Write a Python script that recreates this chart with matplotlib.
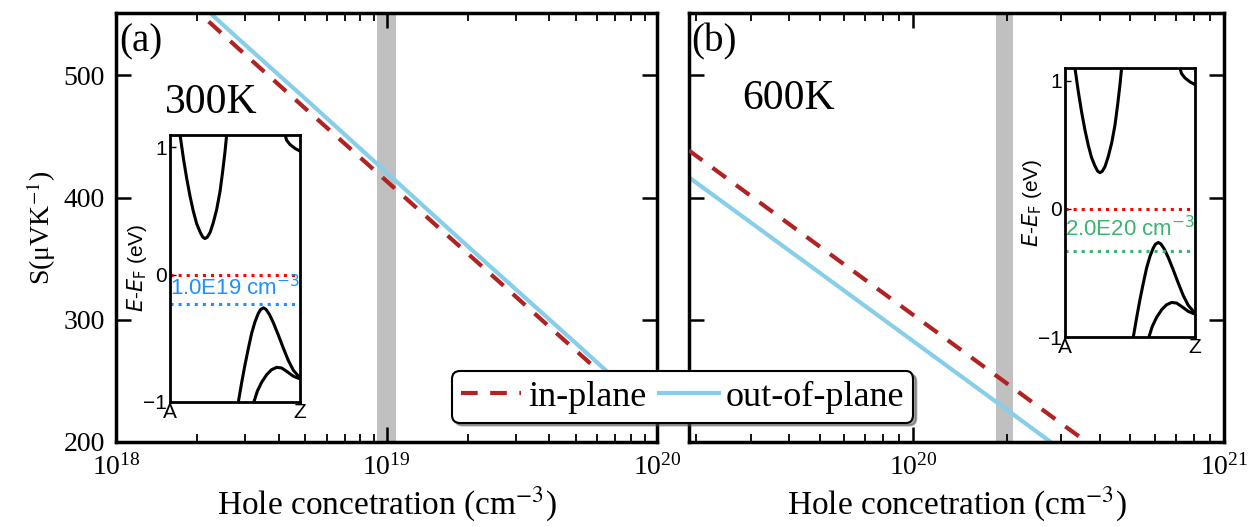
import numpy as np
import matplotlib
matplotlib.use("Agg")
import matplotlib.pyplot as plt

plt.rcParams["font.family"] = ["Liberation Serif", "DejaVu Serif"]
plt.rcParams["mathtext.fontset"] = "stix"

# ── Seebeck coefficient vs hole concentration ────────────────────────────────
conc_300 = [2.2e18, 3e18, 5e18, 1e19, 2e19, 5e19, 1e20]
s_in_300 = [544, 517, 473, 413.5, 354, 275, 215.5]
s_out_300 = [552, 525, 481, 420.5, 360, 281, 220.5]

conc_600 = [1.9e19, 5e19, 1e20, 2e20, 3e20, 4e20]
s_in_600 = [438.5, 360, 304, 248, 215, 192]
s_out_600 = [416.5, 338.5, 282.5, 226.5, 193.5, 170]

band_300 = (9.2e18, 1.08e19)
band_600 = (1.85e20, 2.1e20)

# ── Inset band structure, fractional k along A–Z ────────────────────────────
cb_k = [0.077, 0.103, 0.128, 0.154, 0.179, 0.205, 0.231, 0.251, 0.269, 0.287,
        0.308, 0.333, 0.359, 0.385, 0.405, 0.423, 0.436]
cb_e = [1.10, 0.914, 0.758, 0.616, 0.499, 0.40, 0.335, 0.296, 0.283, 0.294,
        0.33, 0.408, 0.512, 0.655, 0.81, 0.966, 1.10]
cb2_k = [0.885, 0.897, 0.923, 0.962, 1.0]
cb2_e = [1.10, 1.057, 1.023, 0.992, 0.971]
vb1_k = [0.526, 0.551, 0.577, 0.603, 0.628, 0.654, 0.679, 0.697, 0.718, 0.738,
         0.764, 0.795, 0.833, 0.872, 0.91, 0.949, 1.0]
vb1_e = [-1.0, -0.852, -0.709, -0.579, -0.462, -0.371, -0.306, -0.275, -0.262,
         -0.273, -0.312, -0.379, -0.475, -0.579, -0.675, -0.753, -0.813]
vb2_k = [0.646, 0.672, 0.705, 0.744, 0.782, 0.821, 0.859, 0.897, 0.949, 1.0]
vb2_e = [-1.0, -0.917, -0.847, -0.787, -0.748, -0.73, -0.735, -0.761, -0.80, -0.821]

fermi_300 = -0.23
fermi_600 = -0.33

RED = "#b22222"
BLUE = "#87ceeb"

fig = plt.figure(figsize=(12.52, 5.27), dpi=100)
ax1 = fig.add_axes([0.0927, 0.1613, 0.4321, 0.814])
ax2 = fig.add_axes([0.5503, 0.1613, 0.4273, 0.814])


def style_main(ax):
    ax.set_xscale("log")
    ax.set_ylim(200, 551)
    ax.set_yticks([200, 300, 400, 500])
    for sp in ax.spines.values():
        sp.set_linewidth(2.5)
    ax.tick_params(which="both", direction="in", top=True, right=True,
                   labelsize=20)
    ax.tick_params(axis="x", which="both", pad=9)
    ax.tick_params(axis="y", which="both", pad=8)
    ax.tick_params(which="major", length=11, width=1.8)
    ax.tick_params(which="minor", length=6, width=1.3)
    ax.set_xlabel("Hole concetration (cm$^{-3}$)", fontsize=24, labelpad=3)


for ax, conc, s_in, s_out, band in [
        (ax1, conc_300, s_in_300, s_out_300, band_300),
        (ax2, conc_600, s_in_600, s_out_600, band_600)]:
    ax.axvspan(*band, color="#c0c0c0", lw=0, zorder=1)
    ax.plot(conc, s_in, color=RED, lw=3, dashes=(4, 3), label="in-plane", zorder=3)
    ax.plot(conc, s_out, color=BLUE, lw=3, label="out-of-plane", zorder=2)
    style_main(ax)

ax1.set_xlim(1e18, 1e20)
ax2.set_xlim(1.9e19, 1e21)
ax2.set_yticklabels([])
ax1.set_ylabel("S(μVK$^{-1}$)", fontsize=20, labelpad=4)

ax1.text(0.005, 0.975, "(a)", transform=ax1.transAxes, fontsize=28, va="top")
ax2.text(0.005, 0.975, "(b)", transform=ax2.transAxes, fontsize=28, va="top")
ax1.text(0.09, 0.79, "300K", transform=ax1.transAxes, fontsize=30, va="center")
ax2.text(0.10, 0.80, "600K", transform=ax2.transAxes, fontsize=30, va="center")


def draw_inset(rect, fermi, color, label):
    ins = fig.add_axes(rect)
    for k, e in [(cb_k, cb_e), (cb2_k, cb2_e), (vb1_k, vb1_e), (vb2_k, vb2_e)]:
        ins.plot(k, e, color="black", lw=2.2, solid_capstyle="round")
    ins.axhline(0, color="red", ls=":", lw=2.2)
    ins.axhline(fermi, color=color, ls=":", lw=2.2)
    ins.text(0.0, (0 + fermi) / 2 + 0.01, label, color=color, fontsize=16,
             va="center", ha="left", family="Liberation Sans",
             math_fontfamily="dejavusans")
    ins.set_xlim(0, 1)
    ins.set_ylim(-1, 1.1)
    ins.set_xticks([0, 1])
    ins.set_xticklabels(["A", "Z"], family="Liberation Sans", fontsize=15)
    ins.set_yticks([-1, 0, 1])
    ins.set_yticklabels(["\u22121", "0", "1"], family="Liberation Sans", fontsize=15)
    ins.tick_params(axis="x", length=0, pad=1)
    ins.tick_params(axis="y", direction="in", length=4, width=1, pad=2)
    ins.set_ylabel("$E$-$E_\\mathrm{F}$ (eV)", family="Liberation Sans",
                   fontsize=15, labelpad=-4, math_fontfamily="dejavusans")
    for sp in ins.spines.values():
        sp.set_linewidth(2)
    return ins


draw_inset([0.1358, 0.2378, 0.1038, 0.5066], fermi_300, "#1e90ff", "1.0E19 cm$^{-3}$")
draw_inset([0.8506, 0.3605, 0.1038, 0.5104], fermi_600, "#3cb371", "2.0E20 cm$^{-3}$")

handles, labels = ax1.get_legend_handles_labels()
leg = fig.legend(handles, labels, loc="center", bbox_to_anchor=(0.5455, 0.2467),
                 ncol=2, fontsize=26, frameon=True, fancybox=True, shadow=True,
                 handlelength=1.65, handletextpad=0.2, columnspacing=0.35,
                 borderpad=0.25, borderaxespad=0)
leg.get_frame().set_edgecolor("black")
leg.get_frame().set_linewidth(1.5)
leg.get_frame().set_alpha(1)

fig.savefig("out.png", dpi=100)
